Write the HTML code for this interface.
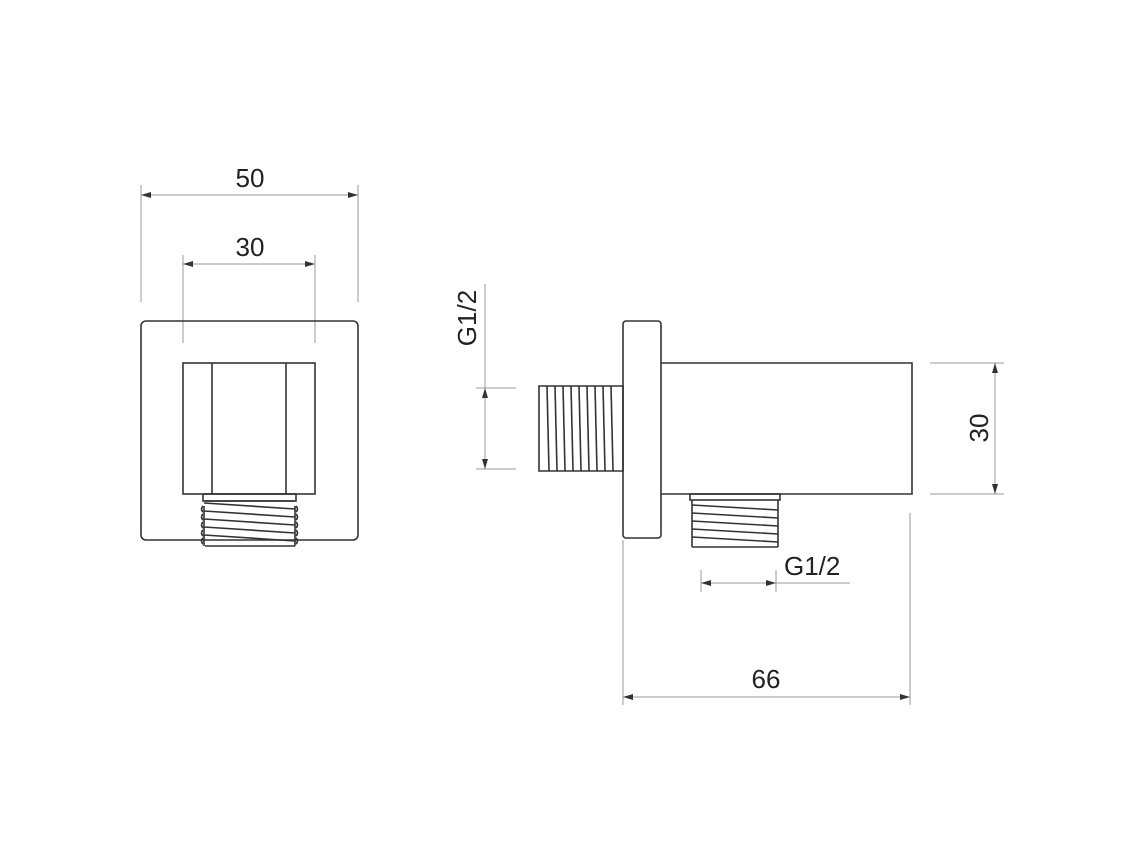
<!DOCTYPE html>
<html><head><style>body{margin:0;background:#fff}svg{display:block}text{font-family:"Liberation Sans",Arial,sans-serif;font-size:26px;fill:#222}</style></head><body>
<svg width="1144" height="858" viewBox="0 0 1144 858" xmlns="http://www.w3.org/2000/svg">
<defs>
<marker id="a" viewBox="0 0 10 6" refX="10" refY="3" markerWidth="10" markerHeight="6" orient="auto-start-reverse" markerUnits="userSpaceOnUse"><path d="M0,0 L10,3 L0,6z" fill="#333"/></marker>
</defs>
<g stroke="#999" stroke-width="1" fill="none">
<!-- left dims -->
<line x1="141" y1="185" x2="141" y2="302"/><line x1="358" y1="185" x2="358" y2="302"/>
<line x1="141" y1="195" x2="358" y2="195" marker-start="url(#a)" marker-end="url(#a)"/>
<line x1="183" y1="255" x2="183" y2="343"/><line x1="315" y1="255" x2="315" y2="343"/>
<line x1="183" y1="264" x2="315" y2="264" marker-start="url(#a)" marker-end="url(#a)"/>
<!-- G1/2 vertical -->
<line x1="476" y1="388" x2="516" y2="388"/><line x1="476" y1="469" x2="516" y2="469"/>
<line x1="485" y1="284" x2="485" y2="388"/>
<line x1="485" y1="388" x2="485" y2="469" marker-start="url(#a)" marker-end="url(#a)"/>
<!-- 30 right -->
<line x1="930" y1="363" x2="1004" y2="363"/><line x1="930" y1="494" x2="1004" y2="494"/>
<line x1="995" y1="363" x2="995" y2="494" marker-start="url(#a)" marker-end="url(#a)"/>
<!-- bottom G1/2 -->
<line x1="701" y1="570" x2="701" y2="592"/><line x1="776" y1="570" x2="776" y2="592"/>
<line x1="701" y1="583" x2="776" y2="583" marker-start="url(#a)" marker-end="url(#a)"/>
<line x1="776" y1="583" x2="850" y2="583"/>
<!-- 66 -->
<line x1="623" y1="540" x2="623" y2="705"/><line x1="910" y1="513" x2="910" y2="705"/>
<line x1="623" y1="697" x2="910" y2="697" marker-start="url(#a)" marker-end="url(#a)"/>
</g>
<g stroke="#333" stroke-width="1.6" fill="none">
<!-- left view -->
<rect x="141" y="321" width="217" height="219" rx="5"/>
<rect x="183" y="363" width="132" height="131"/>
<line x1="212" y1="363" x2="212" y2="494"/><line x1="286" y1="363" x2="286" y2="494"/>
<rect x="203" y="494" width="93" height="7"/>
<path d="M205,501 h89 M203,506 q-3,3 0,6 M296,506 q3,3 0,6 M203,514 q-3,3 0,6 M296,514 q3,3 0,6 M203,522 q-3,3 0,6 M296,522 q3,3 0,6 M203,530 q-3,3 0,6 M296,530 q3,3 0,6 M203,538 q-3,3 0,6 M296,538 q3,3 0,6"/>
<path d="M204,503 L295,509 M204,511 L295,517 M204,519 L295,525 M204,527 L295,533 M204,535 L295,541 M205,546 L295,546 M204,506 L204,546 M295,506 L295,546"/>
<!-- right view -->
<rect x="623" y="321" width="38" height="217" rx="3"/>
<path d="M661,363 H912 V494 H661"/>
<rect x="690" y="494" width="90" height="6"/>
<path d="M692,500 V547 M778,500 V547 M692,547 H778 M692,505 L778,510 M692,513 L778,518 M692,521 L778,526 M692,529 L778,534 M692,537 L778,542"/>
<path d="M539,386 H623 V471 H539 Z"/>
<path d="M547,386 L549,471 M555,386 L557,471 M563,386 L565,471 M571,386 L573,471 M579,386 L581,471 M587,386 L589,471 M595,386 L597,471 M603,386 L605,471 M611,386 L613,471"/>
</g>
<text x="250" y="187" text-anchor="middle">50</text>
<text x="250" y="256" text-anchor="middle">30</text>
<text x="766" y="688" text-anchor="middle">66</text>
<text x="784" y="575">G1/2</text>
<text transform="translate(476,318) rotate(-90)" text-anchor="middle">G1/2</text>
<text transform="translate(988,428) rotate(-90)" text-anchor="middle">30</text>
</svg>
</body></html>
